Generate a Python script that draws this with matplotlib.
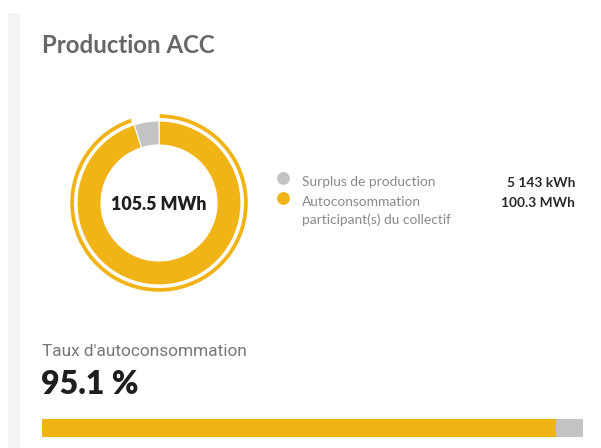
import matplotlib
matplotlib.use("Agg")
import matplotlib.pyplot as plt
from matplotlib.patches import Wedge, Rectangle

# ---- data ----
title = "Production ACC"
categories = ["Autoconsommation\nparticipant(s) du collectif", "Surplus de production"]
values_kwh = [100300, 5143]
value_labels = ["100.3 MWh", "5 143 kWh"]
total_label = "105.5 MWh"
rate_title = "Taux d'autoconsommation"
rate_pct = 95.1
rate_label = "95.1 %"

ORANGE = "#F1B417"
GRAY = "#C3C3C3"
W, H = 601, 448

fig = plt.figure(figsize=(W / 100, H / 100), dpi=100)
fig.patch.set_facecolor("white")

# overlay axes in pixel coords
ax = fig.add_axes([0, 0, 1, 1])
ax.set_xlim(0, W)
ax.set_ylim(H, 0)
ax.axis("off")

# left light stripe (page chrome)
ax.add_patch(Rectangle((8, 13), 12, H - 13, color="#F4F4F4", lw=0))

ax.text(42, 53, title, fontsize=17.3, fontweight="bold", color="#676767",
        family="Lato", va="baseline", ha="left")

# ---- donut ----
cx, cy, R = 159, 203, 100
axd = fig.add_axes([(cx - R) / W, 1 - (cy + R) / H, 2 * R / W, 2 * R / H])
colors = [ORANGE, GRAY]
axd.pie(values_kwh, colors=colors, radius=82, startangle=90, counterclock=False,
        wedgeprops=dict(width=24, edgecolor="white", linewidth=0.8))
frac = values_kwh[0] / sum(values_kwh)
axd.add_patch(Wedge((0, 0), 88.8, 90 - 360 * frac + 1.0, 90 - 0.5, width=3.8,
                    color=ORANGE, lw=0))
axd.set_xlim(-R, R)
axd.set_ylim(-R, R)
axd.set_aspect("equal")
axd.axis("off")
axd.text(0, -1, total_label, fontsize=12.8, fontweight="heavy", color="#1E1E1E",
         family="Lato", ha="center", va="center")

# ---- legend (surplus first, then autoconsommation) ----
leg_colors = [GRAY, ORANGE]
leg_labels = [categories[1], categories[0]]
leg_values = [value_labels[1], value_labels[0]]
leg_y = [183, 203]
for col, lab, val, y in zip(leg_colors, leg_labels, leg_values, leg_y):
    ax.scatter([283], [y - 5], s=85, color=col, lw=0)
    ax.text(302, y - 7, lab, fontsize=9.9, color="#8A8A8A", family="Lato",
            ha="left", va="top", linespacing=1.55)
    ax.text(575, y, val, fontsize=9.9, fontweight="bold", color="#2A2A2A",
            family="Lato", ha="right", va="center")

# ---- rate ----
ax.text(42, 356, rate_title, fontsize=12.4, color="#777777", family="Roboto",
        ha="left", va="baseline")
ax.text(41, 394, rate_label, fontsize=23, fontweight="heavy", color="#1E1E1E",
        family="Lato", ha="left", va="baseline")

axb = fig.add_axes([42 / W, 1 - 437 / H, (583 - 42) / W, 18 / H])
axb.set_xlim(0, 100)
axb.set_ylim(-0.5, 0.5)
axb.axis("off")
axb.barh([0], [rate_pct], height=1, color=ORANGE, lw=0)
axb.barh([0], [100 - rate_pct], left=[rate_pct], height=1, color=GRAY, lw=0)

fig.savefig("out.png", dpi=100)
